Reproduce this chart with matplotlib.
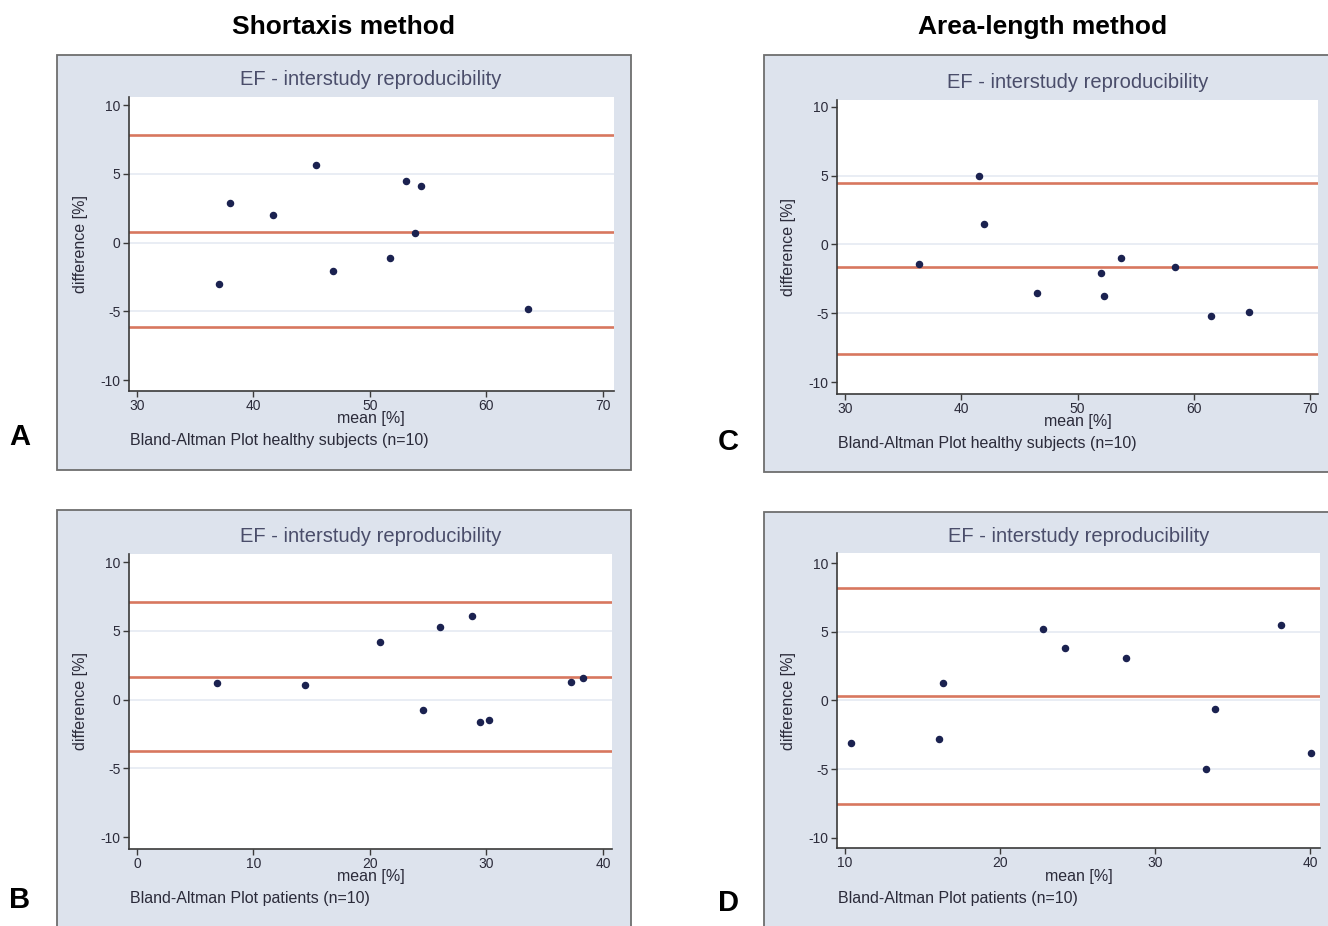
import matplotlib
matplotlib.use("Agg")
import matplotlib.pyplot as plt
from matplotlib.patches import Rectangle

plt.rcParams["axes.unicode_minus"] = False

W, H = 1328, 926

# panel A: short axis, healthy
a_mean = [37.0, 38.0, 41.65, 45.4, 46.8, 51.75, 53.1, 54.35, 53.9, 63.6]
a_diff = [-3.0, 2.84, 2.0, 5.64, -2.1, -1.14, 4.5, 4.08, 0.66, -4.8]
a_limits = [7.85, 0.8, -6.17]
a_xticks = [30, 40, 50, 60, 70]

# panel B: short axis, patients
b_mean = [6.91, 14.41, 20.87, 24.59, 26.04, 28.76, 29.47, 30.24, 37.29, 38.29]
b_diff = [1.17, 1.07, 4.22, -0.73, 5.29, 6.07, -1.66, -1.51, 1.24, 1.54]
b_limits = [7.12, 1.61, -3.76]
b_xticks = [0, 10, 20, 30, 40]

# panel C: area-length, healthy
c_mean = [36.36, 41.53, 41.94, 46.53, 52.05, 52.3, 53.7, 58.4, 61.5, 64.7]
c_diff = [-1.44, 5.0, 1.46, -3.54, -2.07, -3.78, -0.98, -1.61, -5.17, -4.9]
c_limits = [4.49, -1.66, -7.93]
c_xticks = [30, 40, 50, 60, 70]

# panel D: area-length, patients
d_mean = [10.4, 16.06, 16.32, 22.76, 24.18, 28.1, 33.28, 33.88, 38.13, 40.04]
d_diff = [-3.13, -2.82, 1.24, 5.22, 3.82, 3.11, -5.0, -0.61, 5.49, -3.82]
d_limits = [8.21, 0.32, -7.51]
d_xticks = [10, 20, 30, 40]

y_ticks = [-10, -5, 0, 5, 10]
grid_y = [-5, 0, 5]

FONT = ["Liberation Sans Narrow", "Liberation Sans", "DejaVu Sans"]
PANEL_BG = "#dde3ed"
RED = "#d8775f"
DOT = "#1b2250"
TXT = "#2b2b3a"


def px(x, y):
    return x / W, 1 - y / H


fig = plt.figure(figsize=(W / 100, H / 100), dpi=100)
fig.patch.set_facecolor("white")


def panel_box(x0, y0, x1, y1):
    l, t = px(x0, y0)
    r, b = px(x1, y1)
    fig.patches.append(Rectangle((l, b), r - l, t - b, transform=fig.transFigure,
                                 facecolor=PANEL_BG, edgecolor="#6e6e6e", lw=1.3, zorder=-5))


def draw(box, ax_px, means, diffs, limits, xticks, xlim, ylim, note):
    panel_box(*box)
    x0, y0, x1, y1 = ax_px
    l, t = px(x0, y0)
    r, b = px(x1, y1)
    ax = fig.add_axes([l, b, r - l, t - b])
    ax.set_zorder(2)
    ax.set_facecolor("white")
    for gy in grid_y:
        ax.axhline(gy, color="#e9edf4", lw=1.4, zorder=1)
    for lim in limits:
        ax.axhline(lim, color=RED, lw=1.9, zorder=2)
    ax.plot(means, diffs, "o", color=DOT, ms=4.4, zorder=3)
    ax.set_xlim(*xlim)
    ax.set_ylim(*ylim)
    ax.set_xticks(xticks)
    ax.set_yticks(y_ticks)
    for s in ["top", "right"]:
        ax.spines[s].set_visible(False)
    for s in ["left", "bottom"]:
        ax.spines[s].set_color("#3a3a3a")
        ax.spines[s].set_linewidth(1.2)
    ax.tick_params(length=4, width=1, color="#3a3a3a", labelsize=10, labelcolor=TXT, pad=2)
    for lab in ax.get_xticklabels() + ax.get_yticklabels():
        lab.set_family(FONT)
    cx = (x0 + x1) / 2
    fig.text(*px(cx, y0 - 17), "EF - interstudy reproducibility", ha="center", va="center",
             fontsize=14.5, color="#4a4d6a", family=FONT)
    fig.text(*px(x0 - 48, (y0 + y1) / 2), "difference [%]", ha="center", va="center",
             rotation=90, fontsize=11.5, color=TXT, family=FONT)
    fig.text(*px(cx, y1 + 28), "mean [%]", ha="center", va="center",
             fontsize=11.5, color=TXT, family=FONT)
    fig.text(*px(x0 + 1, y1 + 50), note, ha="left", va="center",
             fontsize=11.5, color=TXT, family=FONT)
    return ax


draw((57, 55, 631, 470), (128.8, 96.8, 613.5, 391.0), a_mean, a_diff, a_limits, a_xticks,
     (29.3, 70.9), (-10.8, 10.6), "Bland-Altman Plot healthy subjects (n=10)")
draw((57, 510, 631, 935), (128.8, 553.8, 612.3, 848.7), b_mean, b_diff, b_limits, b_xticks,
     (-0.7, 40.8), (-10.85, 10.6), "Bland-Altman Plot patients (n=10)")
draw((764, 55, 1345, 472), (836.9, 100.0, 1318.4, 393.7), c_mean, c_diff, c_limits, c_xticks,
     (29.3, 70.7), (-10.85, 10.5), "Bland-Altman Plot healthy subjects (n=10)")
draw((764, 512, 1345, 935), (837.0, 553.4, 1319.8, 848.0), d_mean, d_diff, d_limits, d_xticks,
     (9.49, 40.63), (-10.74, 10.7), "Bland-Altman Plot patients (n=10)")

# column headers and panel letters
fig.text(*px(343, 27), "Shortaxis method", ha="center", va="center",
         fontsize=19, fontweight="bold", family=FONT)
fig.text(*px(1043, 27), "Area-length method", ha="center", va="center",
         fontsize=19, fontweight="bold", family=FONT)
for letter, (lx, ly) in zip("ABCD", [(20, 437), (20, 900), (728, 442), (728, 903)]):
    fig.text(*px(lx, ly), letter, ha="center", va="center",
             fontsize=21, fontweight="bold", family=FONT)

fig.savefig("out.png", dpi=100)
